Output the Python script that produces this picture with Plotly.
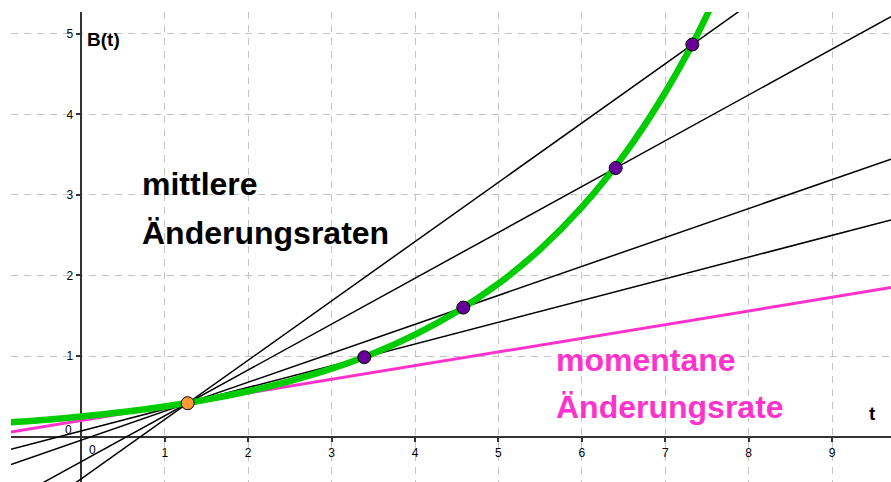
import plotly.graph_objects as go

# values
t_curve = [-1.0, -0.5, 0.0, 0.5, 1.0, 1.5, 2.0, 2.5, 3.0, 3.5, 4.0, 4.5, 5.0, 5.5, 6.0, 6.5, 7.0, 7.5, 7.8]
b_curve = [0.167, 0.204, 0.25, 0.306, 0.375, 0.459, 0.563, 0.689, 0.844, 1.033, 1.266, 1.55, 1.898, 2.325, 2.848, 3.488, 4.271, 5.23, 5.98]

t_fixed, b_fixed = 1.274, 0.415          # orange point
t_pts = [3.392, 4.579, 6.406, 7.325]     # purple points
b_pts = [0.986, 1.602, 3.334, 4.866]

t_tangent = [-0.844, 9.707]
b_tangent = [0.058, 1.85]

x_ticks = [1, 2, 3, 4, 5, 6, 7, 8, 9]
y_ticks = [1, 2, 3, 4, 5]

x_range = [-0.844, 9.707]
y_range = [-0.563, 5.27]

FONT = "Liberation Sans, Arial, sans-serif"
GREEN = "#00cc00"
MAGENTA = "#ff33cc"

fig = go.Figure()

# secants through the fixed point and each purple point
for tp, bp in zip(t_pts, b_pts):
    m = (bp - b_fixed) / (tp - t_fixed)
    fig.add_trace(go.Scatter(
        x=x_range, y=[b_fixed + m * (x - t_fixed) for x in x_range],
        mode="lines", line=dict(color="black", width=1.5), hoverinfo="skip"))

fig.add_trace(go.Scatter(x=t_tangent, y=b_tangent, mode="lines",
                         line=dict(color=MAGENTA, width=3), hoverinfo="skip"))

fig.add_trace(go.Scatter(x=t_curve, y=b_curve, mode="lines",
                         line=dict(color=GREEN, width=6.5, shape="spline")))

fig.add_trace(go.Scatter(x=t_pts, y=b_pts, mode="markers",
                         marker=dict(size=13, color="#660099", line=dict(color="black", width=1))))
fig.add_trace(go.Scatter(x=[t_fixed], y=[b_fixed], mode="markers",
                         marker=dict(size=13, color="#ff9933", line=dict(color="black", width=1))))

grid = dict(showgrid=True, gridcolor="#c4c4c4", gridwidth=1, griddash="7px,6px",
            zeroline=False, showline=True, linecolor="#333333", linewidth=1.5,
            ticks="outside", ticklen=5, tickcolor="#333333", tickwidth=1.5,
            tickfont=dict(family=FONT, size=12, color="black"),
            anchor="free", layer="below traces")

fig.update_layout(
    width=891, height=482,
    margin=dict(l=11, r=0, t=12, b=0),
    plot_bgcolor="white", paper_bgcolor="white",
    showlegend=False,
    xaxis=dict(range=x_range, tickvals=x_ticks,
               position=(0 - y_range[0]) / (y_range[1] - y_range[0]), **grid),
    yaxis=dict(range=y_range, tickvals=y_ticks,
               position=(0 - x_range[0]) / (x_range[1] - x_range[0]), **grid),
)

notes = [
    ("mittlere", 0.707, 3.135, "black", 32, "left"),
    ("Änderungsraten", 0.707, 2.527, "black", 32, "left"),
    ("momentane", 5.667, 0.949, MAGENTA, 32, "left"),
    ("Änderungsrate", 5.667, 0.365, MAGENTA, 32, "left"),
    ("B(t)", 0.043, 4.928, "black", 19, "left"),
    ("t", 9.49, 0.282, "black", 19, "center"),
]
for txt, x, y, col, size, xa in notes:
    fig.add_annotation(x=x, y=y, text="<b>%s</b>" % txt, showarrow=False,
                       xanchor=xa, yanchor="middle",
                       font=dict(family=FONT, size=size, color=col))

# the two zero labels sit off the axes
fig.add_annotation(x=0.133, y=-0.165, text="0", showarrow=False,
                   font=dict(family=FONT, size=12, color="black"))
fig.add_annotation(x=-0.157, y=0.083, text="0", showarrow=False,
                   font=dict(family=FONT, size=12, color="black"))

fig.write_html("out.html", config={"displayModeBar": False},
               post_script="document.body.style.margin='0';")
